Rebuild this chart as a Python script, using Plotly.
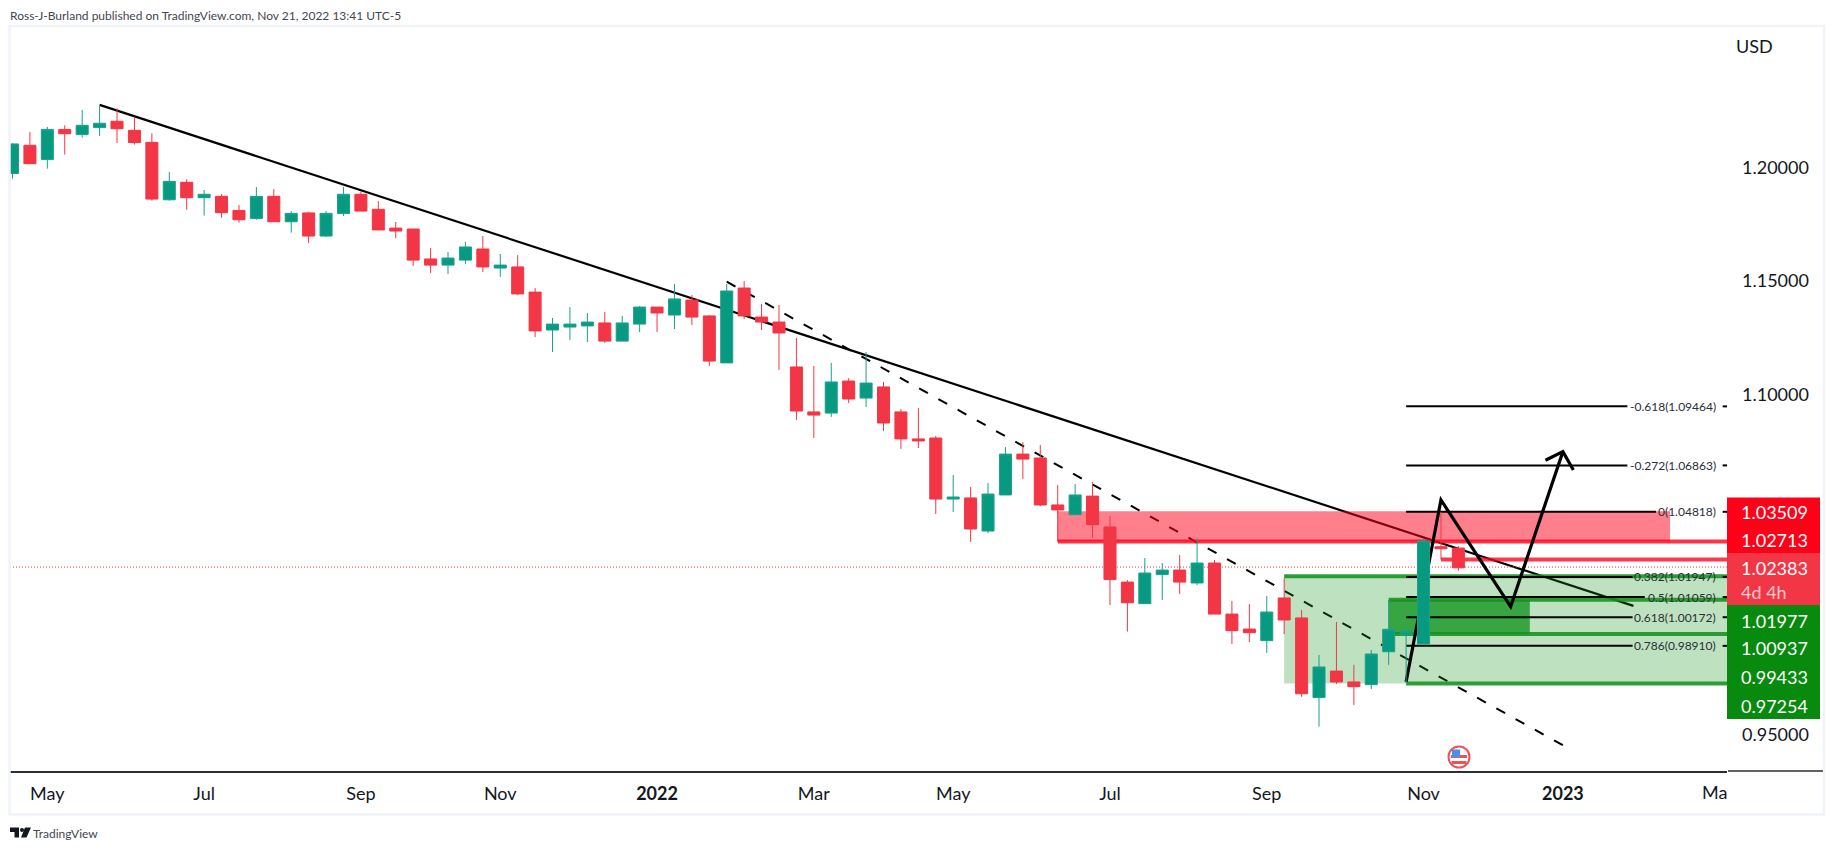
import pandas as pd
import plotly.graph_objects as go

# ---------- data ----------
first_week = "2021-04-19"
opens = [1.1973,1.2097,1.2034,1.2167,1.2145,1.2175,1.2203,1.2163,1.2110,1.1857,1.1934,1.1866,1.1872,1.1810,1.1774,1.1872,1.1760,1.1799,1.1697,1.1796,
         1.1881,1.1815,1.1732,1.1728,1.1596,1.1569,1.1591,1.1640,1.1556,1.1561,1.1450,1.1283,1.1296,1.1301,1.1314,1.1234,1.1309,1.1384,1.1349,1.1415,
         1.1345,1.1138,1.1468,1.1340,1.1318,1.1120,1.0922,1.0917,1.1058,1.0983,1.1032,1.0922,1.0803,1.0807,1.0538,1.0543,1.0397,1.0556,1.0736,1.0719,
         1.0512,1.0469,1.0551,1.0415,1.0172,1.0077,1.0205,1.0225,1.0168,1.0256,1.0031,0.9965,0.9914,1.0102,1.0014,0.9663,0.9780,0.9732,0.9720,0.9865,
         0.9940,0.9899,1.0328,1.0322]
highs = [1.2106,1.2156,1.2178,1.2185,1.2253,1.2275,1.2260,1.2223,1.2150,1.1979,1.1947,1.1900,1.1882,1.1834,1.1913,1.1904,1.1807,1.1803,1.1807,1.1913,
         1.1894,1.1851,1.1759,1.1728,1.1644,1.1627,1.1671,1.1697,1.1618,1.1613,1.1468,1.1336,1.1384,1.1358,1.1362,1.1345,1.1389,1.1384,1.1486,1.1437,
         1.1349,1.1486,1.1499,1.1398,1.1393,1.1248,1.1124,1.1138,1.1071,1.1186,1.1054,1.0935,1.0939,1.0816,1.0644,1.0591,1.0609,1.0767,1.0789,1.0776,
         1.0600,1.0604,1.0613,1.0463,1.0181,1.0278,1.0256,1.0291,1.0366,1.0269,1.0089,1.0075,1.0111,1.0189,1.0049,0.9851,0.9996,0.9807,0.9873,1.0093,
         0.9973,1.0362,1.0481,1.0331]
lows = [1.1950,1.2014,1.1994,1.2056,1.2131,1.2138,1.2107,1.2100,1.1853,1.1853,1.1813,1.1787,1.1778,1.1756,1.1769,1.1760,1.1712,1.1666,1.1693,1.1785,
        1.1807,1.1724,1.1688,1.1565,1.1534,1.1530,1.1574,1.1539,1.1517,1.1437,1.1252,1.1186,1.1239,1.1230,1.1226,1.1234,1.1274,1.1274,1.1287,1.1305,
        1.1124,1.1138,1.1331,1.1283,1.1107,1.0886,1.0807,1.0900,1.0961,1.0944,1.0838,1.0759,1.0763,1.0472,1.0481,1.0349,1.0388,1.0556,1.0626,1.0507,
        1.0475,1.0469,1.0368,1.0071,0.9954,1.0077,1.0093,1.0120,1.0159,1.0031,0.9899,0.9908,0.9860,0.9943,0.9667,0.9535,0.9723,0.9630,0.9701,0.9807,
        0.9727,0.9899,1.0319,1.0222]
closes = [1.2103,1.2016,1.2167,1.2148,1.2185,1.2194,1.2170,1.2109,1.1860,1.1938,1.1866,1.1881,1.1800,1.1769,1.1872,1.1760,1.1797,1.1697,1.1797,1.1881,
          1.1807,1.1724,1.1719,1.1591,1.1569,1.1600,1.1649,1.1561,1.1569,1.1442,1.1279,1.1309,1.1309,1.1318,1.1234,1.1314,1.1384,1.1358,1.1420,1.1340,
          1.1146,1.1455,1.1345,1.1318,1.1270,1.0926,1.0908,1.1054,1.0979,1.1049,1.0873,1.0803,1.0794,1.0538,1.0547,1.0406,1.0560,1.0736,1.0714,1.0512,
          1.0490,1.0556,1.0425,1.0183,1.0081,1.0212,1.0225,1.0172,1.0256,1.0031,0.9958,0.9949,1.0040,1.0005,0.9680,0.9798,0.9732,0.9711,0.9855,0.9964,
          0.9955,1.0353,1.0319,1.0235]

x_tick_dates = ["2021-05-03","2021-07-05","2021-09-06","2021-11-01","2022-01-03","2022-03-07","2022-05-02","2022-07-04","2022-09-05","2022-11-07","2023-01-02"]
x_tick_text = ["May","Jul","Sep","Nov","<b>2022</b>","Mar","May","Jul","Sep","Nov","<b>2023</b>"]
y_tick_vals = [1.2, 1.15, 1.1, 0.95]

trend_solid = [(5, 1.2275), (93.05, 1.0067)]
trend_dashed = [(41, 1.1496), (89, 0.9453)]
zigzag = [(80, 0.9733), (82, 1.0534), (86, 1.0064), (89, 1.0747)]
arrow_head = [(88, 1.0709), (89, 1.0747), (89.6, 1.0666)]

fib_labels = ["-0.618(1.09464)","-0.272(1.06863)","0(1.04818)","0.382(1.01947)","0.5(1.01059)","0.618(1.00172)","0.786(0.98910)"]
fib_prices = [1.09464,1.06863,1.04818,1.01947,1.01059,1.00172,0.98910]
fib_line_end = [92.7,92.7,94.35,93.0,93.7,93.0,93.0]

current_price = 1.02383
red_high, red_low, red_low2 = 1.0484, 1.03509, 1.02713
green_top, green_mid_top, green_mid_bot, green_bot = 1.01977, 1.00937, 0.99433, 0.97254

axis_labels = ["1.03509","1.02713","1.02383","4d 4h","1.01977","1.00937","0.99433","0.97254"]

# ---------- geometry / helpers ----------
W, H = 1834, 850
L, R, T, B = 10, 1727, 27, 771
X_RANGE_I = (-0.1435, 98.42)
Y_RANGE = (0.93395, 1.26183)
FONT = "Lato"
INK = "#131722"
GREEN, GREEN_LINE = "#089981", "#18A18B"
RED = "#F23645"

start = pd.Timestamp(first_week)
def d(i):
    return (start + pd.Timedelta(days=7 * i)).isoformat()
def d_path(i):
    return (start + pd.Timedelta(days=7 * i)).strftime("%Y-%m-%d_%H:%M:%S")
def px(x):
    return (x - L) / (R - L)
def py(y):
    return (B - y) / (B - T)
dates = [d(i) for i in range(len(opens))]
END = X_RANGE_I[1]

shapes = []
def seg(i0, p0, i1, p1, color, width, dash="solid"):
    shapes.append(dict(type="line", xref="x", yref="y", x0=d(i0), y0=p0, x1=d(i1), y1=p1,
                       layer="below", line=dict(color=color, width=width, dash=dash)))
def zone(i0, i1, p0, p1, fill):
    shapes.append(dict(type="rect", xref="x", yref="y", x0=d(i0), x1=d(i1), y0=p0, y1=p1,
                       layer="below", line=dict(width=0), fillcolor=fill))
def poly(points, color, width):
    path = " ".join(("M" if k == 0 else "L") + f"{d_path(i)},{p}" for k, (i, p) in enumerate(points))
    shapes.append(dict(type="path", xref="x", yref="y", path=path, layer="below",
                       line=dict(color=color, width=width)))
def box(x0, x1, y0, y1, fill, layer="above", line=None):
    shapes.append(dict(type="rect", xref="paper", yref="paper", x0=px(x0), x1=px(x1),
                       y0=py(y1), y1=py(y0), layer=layer, fillcolor=fill,
                       line=line or dict(width=0)))

# trend lines sit beneath the translucent zones
seg(trend_solid[0][0], trend_solid[0][1], trend_solid[1][0], trend_solid[1][1], "#000000", 2.2)
seg(trend_dashed[0][0], trend_dashed[0][1], trend_dashed[1][0], trend_dashed[1][1], "#000000", 2, "10px,12px")

# zones
zone(60, 95.15, red_high, red_low, "rgba(255,0,25,0.5)")
zone(73, END, green_top, green_bot, "rgba(20,150,30,0.28)")
zone(79, 87.1, green_mid_top, green_mid_bot, "rgba(23,150,35,0.8)")
seg(60, red_low, END, red_low, "rgba(255,0,25,0.8)", 4)
seg(82, red_low2, END, red_low2, "rgba(255,0,25,0.78)", 4)
seg(82, red_low2, 82, 1.0319, "rgba(255,0,25,0.78)", 1)
seg(60, red_low, 60, red_high, "rgba(255,0,25,0.8)", 1)
seg(73, green_top, END, green_top, "rgba(20,145,30,0.88)", 4)
seg(79, green_mid_top, END, green_mid_top, "rgba(20,145,30,0.88)", 4)
seg(79, green_mid_bot, END, green_mid_bot, "rgba(20,145,30,0.88)", 4)
seg(80, green_bot, END, green_bot, "rgba(20,145,30,0.88)", 4)

# current price
seg(X_RANGE_I[0], current_price, END, current_price, RED, 1, "1px,2px")

# fib levels
for price, end in zip(fib_prices, fib_line_end):
    seg(80, price, end, price, "#000000", 2)
    seg(98.17, price, END, price, "#000000", 2)

# hand-drawn projection
poly(zigzag, "#000000", 3.2)
poly(arrow_head, "#000000", 3.2)

# price-scale boxes
box(R, 1820, 497.5, 553, "#FF0018")
box(R, 1820, 553, 605, RED)
box(R, 1820, 605, 719, "#088A0E")

# frame + axis extension
FRAME = "#F0F3FA"
box(9.5, 1824, 26, 814.5, "rgba(0,0,0,0)", line=dict(color=FRAME, width=2.5))
shapes.append(dict(type="line", xref="paper", yref="paper", x0=px(R + 1), x1=px(1823), y0=0, y1=0,
                   layer="above", line=dict(color="#2A2E39", width=1.5)))

# event flag
shapes.append(dict(type="circle", xref="paper", yref="paper", x0=px(1448.5), x1=px(1469.5), y0=py(767.5), y1=py(746.5),
                   layer="above", fillcolor="#FFFFFF", line=dict(color="#F0505C", width=2)))
box(1451, 1467, 755, 758, "#EF5350")
box(1451.5, 1466.5, 761, 764, "#EF5350")
box(1452, 1460, 749.5, 757.5, "#4C8FE8")

# logo
shapes.append(dict(type="path", xref="paper", yref="paper", layer="above", fillcolor="#131722", line=dict(width=0),
                   path=(f"M{px(10)},{py(827.5)} L{px(19)},{py(827.5)} L{px(19)},{py(837.5)} L{px(14.5)},{py(837.5)} "
                         f"L{px(14.5)},{py(832)} L{px(10)},{py(832)} Z "
                         f"M{px(25)},{py(827.5)} L{px(31)},{py(827.5)} L{px(26.5)},{py(837.5)} L{px(21)},{py(837.5)} Z")))
shapes.append(dict(type="circle", xref="paper", yref="paper", layer="above", fillcolor="#131722", line=dict(width=0),
                   x0=px(20), x1=px(24), y0=py(832), y1=py(828)))

annotations = []
def note(text, x, y, size, color=INK, anchor="left"):
    annotations.append(dict(text=text, xref="paper", yref="paper", x=px(x), y=py(y), xanchor=anchor,
                            yanchor="middle", showarrow=False, font=dict(family=FONT, size=size, color=color),
                            borderpad=0, borderwidth=0))

note("Ross-J-Burland published on TradingView.com, Nov 21, 2022 13:41 UTC-5", 10, 15, 12, "#434651")
note("TradingView", 33, 833, 12, "#434651")
note("USD", 1736, 46, 18)
note("Ma", 1727, 792, 18, anchor="right")

label_y = [511.7, 540.3, 568.3, 591.7, 620.7, 648.3, 677.3, 705.7]
label_colors = ["#FFFFFF"] * 3 + ["#FFC9CE"] + ["#FFFFFF"] * 4
for text, y, col in zip(axis_labels, label_y, label_colors):
    note(text, 1741, y, 18, col)

for text, price in zip(fib_labels, fib_prices):
    annotations.append(dict(text=text, xref="x", yref="y", x=d(97.85), y=price, xanchor="right", yanchor="middle",
                            showarrow=False, font=dict(family=FONT, size=12, color="#2A2E39"), borderpad=0))

fig = go.Figure(go.Candlestick(
    x=dates, open=opens, high=highs, low=lows, close=closes,
    increasing=dict(line=dict(color=GREEN_LINE, width=1), fillcolor=GREEN),
    decreasing=dict(line=dict(color=RED, width=1), fillcolor=RED),
    showlegend=False, hoverinfo="skip",
))

fig.update_layout(
    width=W, height=H, autosize=False,
    margin=dict(l=L, r=W - R, t=T, b=H - B, pad=0),
    paper_bgcolor="#FFFFFF", plot_bgcolor="#FFFFFF",
    boxgap=0.31, boxgroupgap=0,
    showlegend=False, shapes=shapes, annotations=annotations,
    font=dict(family=FONT, color=INK),
    xaxis=dict(type="date", range=[d(X_RANGE_I[0]), d(X_RANGE_I[1])], rangeslider=dict(visible=False),
               tickmode="array", tickvals=x_tick_dates, ticktext=x_tick_text, tickangle=0,
               showgrid=False, zeroline=False, showline=True, linecolor="#2A2E39", linewidth=1.5,
               ticks="", ticklabelstandoff=6, tickfont=dict(family=FONT, size=18, color=INK)),
    yaxis=dict(side="right", range=list(Y_RANGE), tickmode="array", tickvals=y_tick_vals,
               tickformat=".5f", showgrid=False, zeroline=False, showline=False,
               ticks="", ticklabelstandoff=14, tickfont=dict(family=FONT, size=18, color=INK)),
)

fig.write_html("out.html", post_script="document.body.style.margin='0';document.body.style.overflow='hidden';",
               config=dict(displayModeBar=False))
